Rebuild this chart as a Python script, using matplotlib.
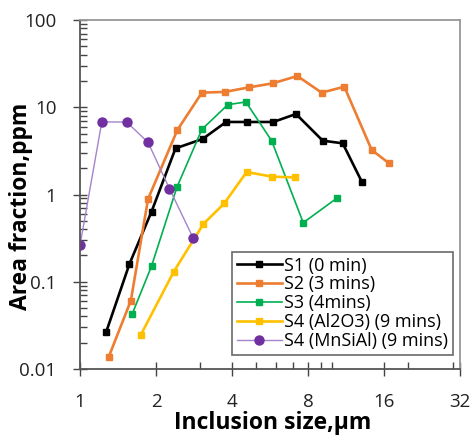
import matplotlib
matplotlib.use("Agg")
import matplotlib.pyplot as plt
from matplotlib.ticker import FixedLocator, NullFormatter, LogLocator

# Data
s1_x = [1.27, 1.57, 1.92, 2.39, 3.06, 3.79, 4.57, 5.83, 7.17, 9.15, 10.98, 13.1]
s1_y = [0.0266, 0.16, 0.636, 3.38, 4.33, 6.78, 6.78, 6.78, 8.37, 4.14, 3.86, 1.38]

s2_x = [1.30, 1.59, 1.86, 2.43, 3.04, 3.75, 4.67, 5.80, 7.26, 9.06, 11.14, 14.3, 16.75]
s2_y = [0.0138, 0.0607, 0.888, 5.48, 14.7, 15.0, 16.9, 18.8, 22.8, 14.7, 17.2, 3.24, 2.28]

s3_x = [1.61, 1.92, 2.42, 3.04, 3.85, 4.54, 5.74, 7.66, 10.39]
s3_y = [0.0427, 0.151, 1.21, 5.58, 10.7, 11.5, 4.14, 0.475, 0.904]

s4a_x = [1.74, 2.35, 3.08, 3.73, 4.57, 5.78, 7.13]
s4a_y = [0.0245, 0.130, 0.459, 0.793, 1.81, 1.60, 1.57]

s4m_x = [1.0, 1.22, 1.53, 1.86, 2.26, 2.81]
s4m_y = [0.262, 6.78, 6.78, 3.96, 1.17, 0.315]

labels = ["S1 (0 min)", "S2 (3 mins)", "S3 (4mins)",
          "S4 (Al2O3) (9 mins)", "S4 (MnSiAl) (9 mins)"]

x_major = [1, 2, 4, 8, 16, 32]
x_minor = [3, 5, 6, 7, 9, 10, 20, 30]
y_major = [0.01, 0.1, 1, 10, 100]
y_labels = ["0.01", "0.1", "1", "10", "100"]

plt.rcParams['font.family'] = ['Open Sans', 'DejaVu Sans']

fig = plt.figure(figsize=(4.74, 4.38), dpi=100)
ax = fig.add_axes([80/474, 69/438, 380/474, 349/438])

ax.plot(s1_x, s1_y, color='#000000', lw=1.9, marker='s', ms=5, label=labels[0])
ax.plot(s2_x, s2_y, color='#ED7D31', lw=1.9, marker='s', ms=5, label=labels[1])
ax.plot(s3_x, s3_y, color='#00B050', lw=1.2, marker='s', ms=5, label=labels[2])
ax.plot(s4a_x, s4a_y, color='#FFC000', lw=1.9, marker='s', ms=5, label=labels[3])
ax.plot(s4m_x, s4m_y, color='#A583CF', lw=1.0, marker='o', ms=6.5,
        mfc='#7030A0', mec='#7030A0', label=labels[4])

ax.set_xscale('log', base=2)
ax.set_yscale('log')
ax.set_xlim(1, 32)
ax.set_ylim(0.01, 100)

ax.xaxis.set_major_locator(FixedLocator(x_major))
ax.set_xticklabels([str(v) for v in x_major])
ax.xaxis.set_minor_locator(FixedLocator(x_minor))
ax.xaxis.set_minor_formatter(NullFormatter())

ax.yaxis.set_major_locator(FixedLocator(y_major))
ax.set_yticklabels(y_labels)
ax.yaxis.set_minor_locator(LogLocator(base=10, subs=range(2, 10), numticks=20))
ax.yaxis.set_minor_formatter(NullFormatter())

ax.tick_params(which='major', direction='inout', length=10, width=1.0,
               color='#444444', labelsize=13.5, labelcolor='#222222')
ax.tick_params(which='minor', direction='in', length=5, width=1.0, color='#444444')
ax.tick_params(axis='y', which='major', pad=12)
ax.tick_params(axis='x', which='major', pad=12)

for side in ['left', 'bottom']:
    ax.spines[side].set_color('#555555')
    ax.spines[side].set_linewidth(1.3)
for side in ['top', 'right']:
    ax.spines[side].set_color('#999999')
    ax.spines[side].set_linewidth(1.3)

ax.set_xlabel('Inclusion size,μm', fontsize=16.5, fontweight='bold')
ax.set_ylabel('Area fraction,ppm', fontsize=16.5, fontweight='bold')
ax.xaxis.set_label_coords(0.508, -42/349)
ax.yaxis.set_label_coords(-47/380, 0.467)

leg = ax.legend(loc='upper left', bbox_to_anchor=(152/380, 117/349),
                fontsize=13, frameon=True, fancybox=False, handlelength=2.5,
                handletextpad=0.15, borderpad=0.25, labelspacing=0.05,
                borderaxespad=0)
leg.get_frame().set_edgecolor('#444444')
leg.get_frame().set_linewidth(1.2)

fig.savefig('out.png', dpi=100)
